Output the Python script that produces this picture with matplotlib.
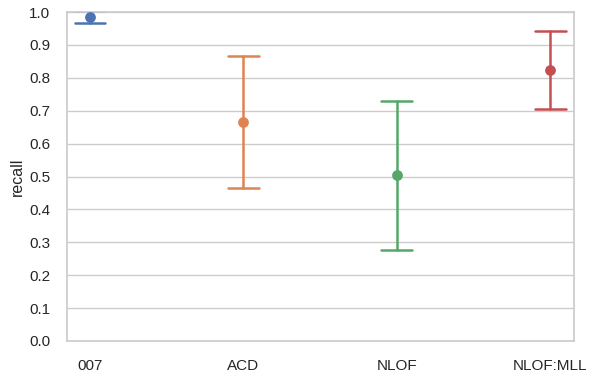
import matplotlib
matplotlib.use("Agg")
import matplotlib.pyplot as plt
import seaborn as sns

categories = ["007", "ACD", "NLOF", "NLOF:MLL"]
means = [0.986, 0.666, 0.505, 0.824]
ci_low = [0.968, 0.464, 0.277, 0.705]
ci_high = [1.004, 0.867, 0.729, 0.942]
yticks = [0.0, 0.1, 0.2, 0.3, 0.4, 0.5, 0.6, 0.7, 0.8, 0.9, 1.0]

sns.set_theme(style="whitegrid")
plt.rcParams['font.family'] = ['Liberation Sans', 'DejaVu Sans']
colors = sns.color_palette("deep", 4)

fig = plt.figure(figsize=(5.91, 3.74), dpi=100)
ax = fig.add_axes([67/591, 1-341/374, (574-67)/591, (341-12)/374])

for i, (m, lo, hi) in enumerate(zip(means, ci_low, ci_high)):
    c = colors[i]
    ax.plot([i, i], [lo, hi], color=c, lw=1.8, zorder=2)
    ax.plot([i - 0.1, i + 0.1], [lo, lo], color=c, lw=1.8, zorder=2)
    ax.plot([i - 0.1, i + 0.1], [hi, hi], color=c, lw=1.8, zorder=2)
    ax.scatter([i], [m], s=60, color=c, zorder=3, linewidths=0)

ax.set_xlim(-0.15, 3.155)
ax.set_ylim(0, 1.0)
ax.set_yticks(yticks)
ax.set_yticklabels([f"{t:.1f}" for t in yticks])
ax.set_xticks(range(len(categories)))
ax.set_xticklabels(categories)
ax.xaxis.grid(False)
ax.tick_params(labelsize=11, pad=6)
ax.tick_params(axis='x', pad=7)
ax.set_ylabel("recall", fontsize=11.5, labelpad=3)
for s in ax.spines.values():
    s.set_color("#cccccc")

fig.savefig("out.png", dpi=100)
